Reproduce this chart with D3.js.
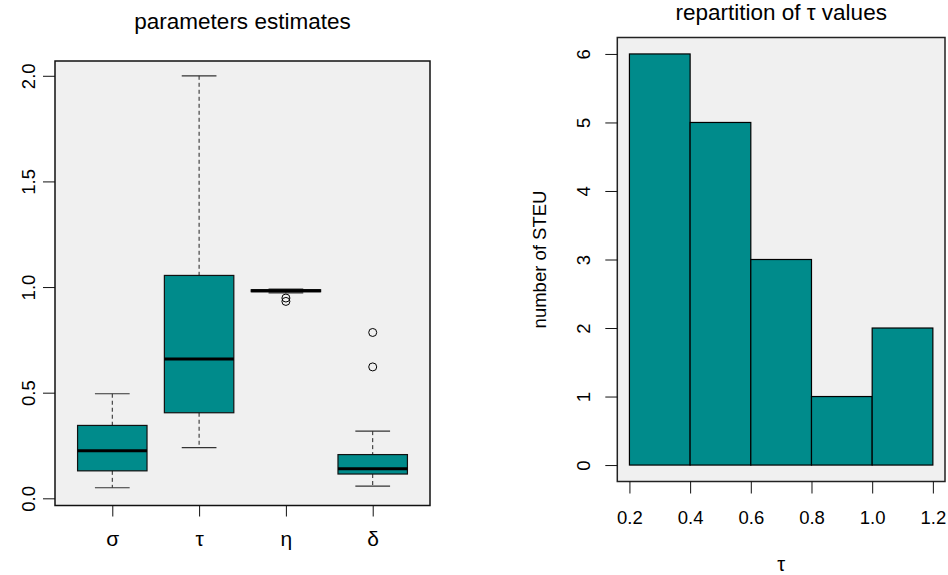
<!DOCTYPE html>
<html>
<head>
<meta charset="utf-8">
<script src="https://cdn.jsdelivr.net/npm/d3@7"></script>
<style>
  html, body { margin: 0; padding: 0; background: #ffffff; }
  svg { display: block; }
  text { font-family: "Liberation Sans", Arial, sans-serif; fill: #000; }
</style>
</head>
<body>
<svg id="chart" width="948" height="575"></svg>
<script>
// ---------- data: left panel (boxplots) ----------
const categories = ["σ", "τ", "η", "δ"];
const lowerWhisker = [0.05, 0.24, 0.972, 0.058];
const q1Values     = [0.13, 0.405, 0.978, 0.115];
const medianValues = [0.225, 0.66, 0.983, 0.14];
const q3Values     = [0.345, 1.055, 0.987, 0.207];
const upperWhisker = [0.495, 2.0, 0.990, 0.318];
const outlierValues = [[], [], [0.948, 0.932], [0.785, 0.622]];
const leftYTicks = [0.0, 0.5, 1.0, 1.5, 2.0];
const leftTitle = "parameters estimates";

// ---------- data: right panel (histogram) ----------
const binStarts = [0.2, 0.4, 0.6, 0.8, 1.0];
const binEnds   = [0.4, 0.6, 0.8, 1.0, 1.2];
const binCounts = [6, 5, 3, 1, 2];
const rightXTicks = [0.2, 0.4, 0.6, 0.8, 1.0, 1.2];
const rightYTicks = [0, 1, 2, 3, 4, 5, 6];
const rightTitle = "repartition of τ values";
const rightYLabel = "number of STEU";
const rightXLabel = "τ";

// ---------- styles ----------
const panelBg = "#f0f0f0";
const boxFill = "#008b8b";
const baseFont = 18.5;

const svg = d3.select("#chart");

// ================= LEFT PANEL =================
const L = { x0: 55, x1: 430, y0: 61, y1: 505.5 };
const xL = d3.scaleLinear().domain([0.34, 4.66]).range([L.x0, L.x1]);
const yL = d3.scaleLinear().domain([-0.034, 2.07]).range([L.y1, L.y0]);

const gL = svg.append("g");
gL.append("rect").attr("x", L.x0).attr("y", L.y0)
  .attr("width", L.x1 - L.x0).attr("height", L.y1 - L.y0)
  .attr("fill", panelBg);

const boxes = categories.map((c, i) => ({
  i: i + 1, lw: lowerWhisker[i], q1: q1Values[i], med: medianValues[i],
  q3: q3Values[i], uw: upperWhisker[i], out: outlierValues[i]
}));
const halfW = (xL(1.4) - xL(1)) ;     // boxwex 0.8 -> half 0.4
const capHalf = halfW / 2;

boxes.forEach(b => {
  const cx = xL(b.i);
  // whiskers (dashed)
  gL.append("line").attr("x1", cx).attr("x2", cx)
    .attr("y1", yL(b.uw)).attr("y2", yL(b.q3))
    .attr("stroke", "#222").attr("stroke-width", 1).attr("stroke-dasharray", "4,3");
  gL.append("line").attr("x1", cx).attr("x2", cx)
    .attr("y1", yL(b.q1)).attr("y2", yL(b.lw))
    .attr("stroke", "#222").attr("stroke-width", 1).attr("stroke-dasharray", "4,3");
  // caps
  [b.uw, b.lw].forEach(v => {
    gL.append("line").attr("x1", cx - capHalf).attr("x2", cx + capHalf)
      .attr("y1", yL(v)).attr("y2", yL(v))
      .attr("stroke", "#333").attr("stroke-width", 1.2);
  });
  // box
  gL.append("rect").attr("x", cx - halfW).attr("y", yL(b.q3))
    .attr("width", 2 * halfW).attr("height", Math.max(0.5, yL(b.q1) - yL(b.q3)))
    .attr("fill", boxFill).attr("stroke", "#111").attr("stroke-width", 1.2);
  // median
  gL.append("line").attr("x1", cx - halfW).attr("x2", cx + halfW)
    .attr("y1", yL(b.med)).attr("y2", yL(b.med))
    .attr("stroke", "#000").attr("stroke-width", 3);
  // outliers
  b.out.forEach(v => {
    gL.append("circle").attr("cx", cx).attr("cy", yL(v)).attr("r", 4)
      .attr("fill", "none").attr("stroke", "#000").attr("stroke-width", 1);
  });
});

gL.append("rect").attr("x", L.x0).attr("y", L.y0)
  .attr("width", L.x1 - L.x0).attr("height", L.y1 - L.y0)
  .attr("fill", "none").attr("stroke", "#111").attr("stroke-width", 1.5);

// left y axis
const axLy = gL.append("g").attr("transform", `translate(${L.x0},0)`)
  .call(d3.axisLeft(yL).tickValues(leftYTicks).tickSize(12).tickFormat(d3.format(".1f")).tickPadding(0));
axLy.select(".domain").remove();
axLy.selectAll("line").attr("stroke", "#111");
axLy.selectAll("text")
  .attr("font-size", baseFont).attr("font-family", "Liberation Sans, Arial, sans-serif")
  .attr("text-anchor", "middle").attr("dy", null).attr("x", null)
  .attr("transform", "translate(-20,0) rotate(-90)");

// left x axis (categories)
const axLx = gL.append("g").attr("transform", `translate(0,${L.y1})`)
  .call(d3.axisBottom(xL).tickValues([1, 2, 3, 4]).tickSize(11)
    .tickFormat((d, i) => categories[i]).tickPadding(0));
axLx.select(".domain").remove();
axLx.selectAll("line").attr("stroke", "#111");
axLx.selectAll("text")
  .attr("font-size", 21).attr("font-family", "Liberation Serif, Times New Roman, serif")
  .attr("dy", null).attr("y", 40.5);

gL.append("text").attr("x", (L.x0 + L.x1) / 2).attr("y", 29)
  .attr("text-anchor", "middle").attr("font-size", 22.5).text(leftTitle);

// ================= RIGHT PANEL =================
const R = { x0: 617.3, x1: 945, y0: 37.5, y1: 481.5 };
const xR = d3.scaleLinear().domain([0.16, 1.24]).range([R.x0, R.x1]);
const yR = d3.scaleLinear().domain([-0.24, 6.24]).range([R.y1, R.y0]);

const gR = svg.append("g");
gR.append("rect").attr("x", R.x0).attr("y", R.y0)
  .attr("width", R.x1 - R.x0).attr("height", R.y1 - R.y0)
  .attr("fill", panelBg);

binCounts.forEach((c, i) => {
  gR.append("rect")
    .attr("x", xR(binStarts[i])).attr("y", yR(c))
    .attr("width", xR(binEnds[i]) - xR(binStarts[i]))
    .attr("height", yR(0) - yR(c))
    .attr("fill", boxFill).attr("stroke", "#000").attr("stroke-width", 1.2);
});

gR.append("rect").attr("x", R.x0).attr("y", R.y0)
  .attr("width", R.x1 - R.x0).attr("height", R.y1 - R.y0)
  .attr("fill", "none").attr("stroke", "#222").attr("stroke-width", 1.5);

const axRy = gR.append("g").attr("transform", `translate(${R.x0},0)`)
  .call(d3.axisLeft(yR).tickValues(rightYTicks).tickSize(12).tickFormat(d3.format("d")).tickPadding(0));
axRy.select(".domain").remove();
axRy.selectAll("line").attr("stroke", "#111");
axRy.selectAll("text")
  .attr("font-size", baseFont).attr("font-family", "Liberation Sans, Arial, sans-serif")
  .attr("text-anchor", "middle").attr("dy", null).attr("x", null)
  .attr("transform", "translate(-27,0) rotate(-90)");

const axRx = gR.append("g").attr("transform", `translate(0,${R.y1})`)
  .call(d3.axisBottom(xR).tickValues(rightXTicks).tickSize(12).tickFormat(d3.format(".1f")).tickPadding(0));
axRx.select(".domain").remove();
axRx.selectAll("line").attr("stroke", "#111");
axRx.selectAll("text")
  .attr("font-size", baseFont).attr("font-family", "Liberation Sans, Arial, sans-serif")
  .attr("dy", null).attr("y", 42.5);

gR.append("text").attr("x", (R.x0 + R.x1) / 2).attr("y", 20)
  .attr("text-anchor", "middle").attr("font-size", 22.5).text(rightTitle);

gR.append("text").attr("x", (R.x0 + R.x1) / 2).attr("y", 571)
  .attr("text-anchor", "middle").attr("font-size", 20)
  .attr("font-family", "Liberation Serif, Times New Roman, serif").text(rightXLabel);

gR.append("text")
  .attr("transform", `translate(546,${(R.y0 + R.y1) / 2}) rotate(-90)`)
  .attr("text-anchor", "middle").attr("font-size", baseFont).text(rightYLabel);
</script>
</body>
</html>
